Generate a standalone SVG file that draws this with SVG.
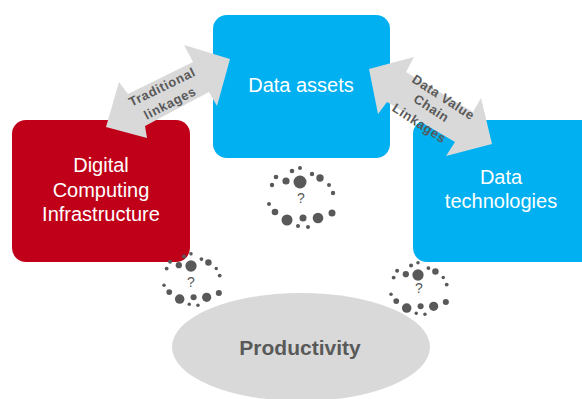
<svg xmlns="http://www.w3.org/2000/svg" xmlns:xlink="http://www.w3.org/1999/xlink" width="582" height="399" viewBox="0 0 582 399">
<style>
text{font-family:"Liberation Sans",Arial,sans-serif;text-anchor:middle}
.lbl{font-size:20px;fill:#fff}
.arr{fill:#d9d9d9}
.lk{font-size:13px;font-weight:bold;fill:#595959;letter-spacing:.6px}
.q{font-size:14px;fill:#595959}
.d{fill:#595959}
</style>
<defs>
<g id="dots" class="d">
<circle cx="0" cy="0" r="6.5"/><circle cx="-14" cy="-1" r="3.6"/><circle cx="-24" cy="-5" r="2.3"/><circle cx="-28" cy="3" r="2.2"/><circle cx="-8" cy="-11" r="2.3"/><circle cx="0" cy="-14" r="2"/><circle cx="12" cy="-8" r="2.2"/><circle cx="20" cy="-4" r="3.7"/><circle cx="29" cy="3" r="2"/><circle cx="33" cy="11" r="2.2"/><circle cx="-31" cy="22" r="2"/><circle cx="-25" cy="30" r="3.3"/><circle cx="-13" cy="38" r="5.5"/><circle cx="3" cy="36" r="3.5"/><circle cx="-2" cy="44" r="2"/><circle cx="8" cy="45" r="2"/><circle cx="18" cy="36" r="5.3"/><circle cx="32" cy="31" r="3.5"/>
</g>
</defs>
<g id="node-assets"><rect x="213" y="15" width="177" height="143" rx="14" fill="#00b0f0"/><text class="lbl" x="301" y="92">Data assets</text></g>
<g id="node-infra"><rect x="12" y="120" width="178" height="142" rx="14" fill="#c00018"/><text class="lbl"><tspan x="101" y="172">Digital</tspan><tspan x="101" y="197">Computing</tspan><tspan x="101" y="221">Infrastructure</tspan></text></g>
<g id="node-tech"><rect x="413" y="120" width="190" height="142" rx="14" fill="#00b0f0"/><text class="lbl"><tspan x="501" y="184">Data</tspan><tspan x="501" y="208">technologies</tspan></text></g>
<g id="node-productivity"><ellipse cx="301" cy="347" rx="129" ry="54" fill="#d9d9d9"/><text x="300" y="355" font-size="21" font-weight="bold" fill="#595959">Productivity</text></g>
<g id="connectors">
<polygon class="arr" points="106,127 119,82 128,94 193,62 184,45 230,59 217,106 209,92 145,126 147,138"/>
<polygon class="arr" points="369,69 414,57 406,72 473,112 481,98 492,144 446,156 455,142 387,102 378,114"/>
</g>
<g id="label-traditional"><text class="lk" transform="translate(164,91) rotate(-26)">Traditional</text><text class="lk" transform="translate(172,107) rotate(-27)">linkages</text></g>
<g id="label-chain"><text class="lk" transform="translate(441,101) rotate(33)">Data Value</text><text class="lk" transform="translate(429,112) rotate(33)">Chain</text><text class="lk" transform="translate(417,127) rotate(33)">Linkages</text></g>
<g id="cluster-top"><use href="#dots" xlink:href="#dots" transform="translate(300,182)"/><text class="q" x="301" y="203">?</text></g>
<g id="cluster-left"><use href="#dots" xlink:href="#dots" transform="translate(191,266) scale(.87)"/><text class="q" x="191" y="287">?</text></g>
<g id="cluster-right"><use href="#dots" xlink:href="#dots" transform="translate(418,275) scale(.87)"/><text class="q" x="419" y="293">?</text></g>
</svg>
